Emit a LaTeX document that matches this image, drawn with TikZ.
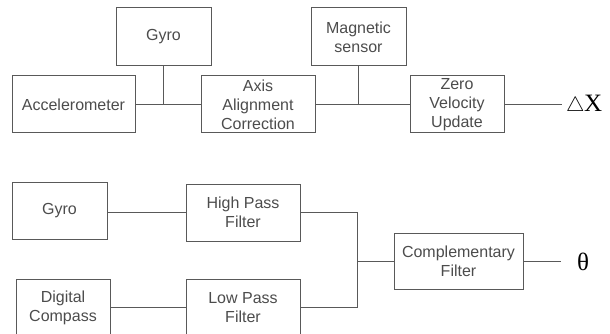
\documentclass[tikz,border=0pt]{standalone}
\usepackage{fontspec}
\setmainfont{Liberation Serif}
\newfontfamily\boxfont{Liberation Sans}
\begin{document}
\begin{tikzpicture}[x=1pt,y=-1pt,
  blk/.style={draw=black!65, line width=1pt, rectangle, inner sep=0pt, align=center,
    font=\boxfont\fontsize{16}{19}\selectfont, text=black!70},
  wire/.style={draw=black!65, line width=1pt}]
\useasboundingbox (0,0) rectangle (610,334);
\clip (0,0) rectangle (610,334);
% top chain
\node[blk, minimum width=95pt, minimum height=58pt] (gyroA) at (163.5,37) {Gyro};
\node[blk, minimum width=123pt, minimum height=57pt] (acc) at (73.5,104.5) {Accelerometer};
\node[blk, minimum width=114pt, minimum height=57pt] (axis) at (258,104.5) {Axis\\Alignment\\Correction};
\node[blk, minimum width=95pt, minimum height=58pt] (mag) at (358.5,37) {Magnetic\\sensor};
\node[blk, minimum width=94pt, minimum height=57pt] (zvu) at (457,104.5) {Zero\\Velocity\\Update};
\coordinate (dxend) at (562,104.5);
\node[anchor=west, inner sep=0pt, font=\fontsize{25}{25}\selectfont] (dx) at (566,105)
  {{\fontfamily{lmr}\selectfont\fontsize{20}{20}\selectfont$\triangle$}\kern-0.5pt X};
\draw[wire] (acc.east) -- (axis.west);
\draw[wire] (gyroA.south) -- (gyroA.south |- acc.east);
\draw[wire] (axis.east) -- (zvu.west);
\draw[wire] (mag.south) -- (mag.south |- axis.east);
\draw[wire] (zvu.east) -- (dxend);
% bottom
\node[blk, minimum width=95pt, minimum height=57pt] (gyroB) at (59.5,210.5) {Gyro};
\node[blk, minimum width=114pt, minimum height=57pt] (hpf) at (243,212.5) {High Pass\\Filter};
\node[blk, minimum width=94pt, minimum height=57pt] (dc) at (63,307.5) {Digital\\Compass};
\node[blk, minimum width=114pt, minimum height=57pt] (lpf) at (243,307.5) {Low Pass\\Filter};
\node[blk, minimum width=129pt, minimum height=56pt] (cf) at (458.5,261) {Complementary\\Filter};
\coordinate (jt) at (357,212.5);
\coordinate (jb) at (357,307.5);
\coordinate (thend) at (561,261);
\node[inner sep=0pt, font=\fontsize{25}{25}\selectfont] (th) at (583,262) {θ};
\draw[wire] (gyroB.east |- hpf.west) -- (hpf.west);
\draw[wire] (dc.east) -- (lpf.west);
\draw[wire] (hpf.east) -- (jt) -- (jb) -- (lpf.east);
\draw[wire] (jt |- cf.west) -- (cf.west);
\draw[wire] (cf.east) -- (thend);
\end{tikzpicture}
\end{document}
